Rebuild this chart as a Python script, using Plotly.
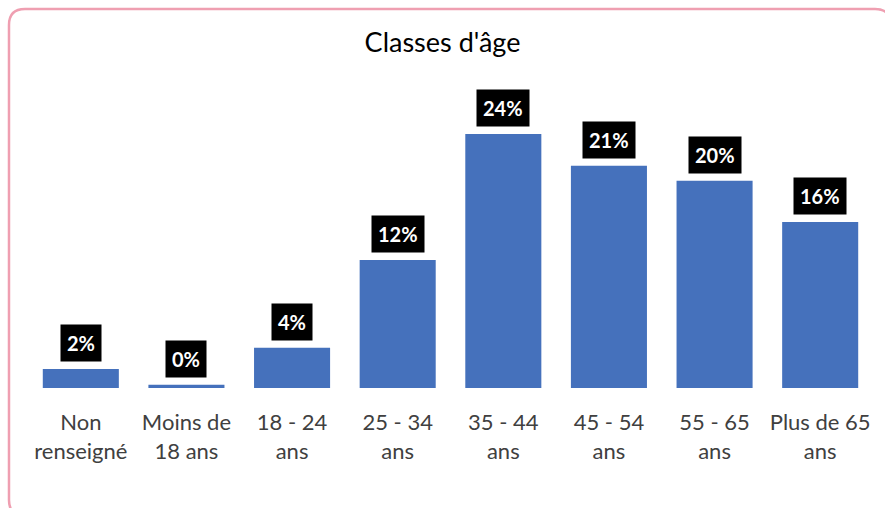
import plotly.graph_objects as go

# Age-class distribution (percent of respondents)
categories = ["Non<br>renseigné", "Moins de<br>18 ans", "18 - 24<br>ans", "25 - 34<br>ans",
              "35 - 44<br>ans", "45 - 54<br>ans", "55 - 65<br>ans", "Plus de 65<br>ans"]
values = [1.8, 0.3, 3.8, 12.1, 24.0, 21.0, 19.6, 15.7]

W, H = 885, 508
ML, MR, MT, MB = 28, 12, 80, 120
PW, PH = W - ML - MR, H - MT - MB
FONT = "Lato, Open Sans, sans-serif"


def px_to_paper(x, y):
    return (x - ML) / PW, (H - MB - y) / PH


def rounded_rect(x0, y0, x1, y1, r):
    def P(x, y):
        px, py = px_to_paper(x, y)
        return f"{px:.5f},{py:.5f}"
    return (f"M {P(x0 + r, y0)} L {P(x1 - r, y0)} Q {P(x1, y0)} {P(x1, y0 + r)} "
            f"L {P(x1, y1 - r)} Q {P(x1, y1)} {P(x1 - r, y1)} "
            f"L {P(x0 + r, y1)} Q {P(x0, y1)} {P(x0, y1 - r)} "
            f"L {P(x0, y0 + r)} Q {P(x0, y0)} {P(x0 + r, y0)} Z")


fig = go.Figure(go.Bar(
    x=categories, y=values,
    marker=dict(color="#4571bc", line=dict(width=0)),
    width=0.72,
    hoverinfo="skip",
))

for c, v in zip(categories, values):
    fig.add_annotation(
        x=c, y=v, yanchor="bottom", yshift=7,
        text=f"<b>{v:.0f}%</b>", showarrow=False,
        font=dict(family=FONT, size=20, color="white"),
        bgcolor="black", borderpad=6,
    )

# Rounded frame around the whole chart
fig.add_shape(type="path", xref="paper", yref="paper",
              path=rounded_rect(9, 9, 891, 516, 16),
              line=dict(color="#ef9fb1", width=2.5), layer="above")

fig.update_layout(
    width=W, height=H,
    margin=dict(l=ML, r=MR, t=MT, b=MB),
    paper_bgcolor="white", plot_bgcolor="white",
    title=dict(text="Classes d'âge", x=0.5, xanchor="center", y=1 - 43 / H, yanchor="middle",
               font=dict(family=FONT, size=27, color="black")),
    xaxis=dict(showline=False, ticks="", showgrid=False,
               tickfont=dict(family=FONT, size=22, color="#404040"),
               ticklabelstandoff=19),
    yaxis=dict(range=[0, (H - MB - MT) / 10.58], visible=False),
    bargap=0.28,
    showlegend=False,
)

fig.write_html("out.html")
